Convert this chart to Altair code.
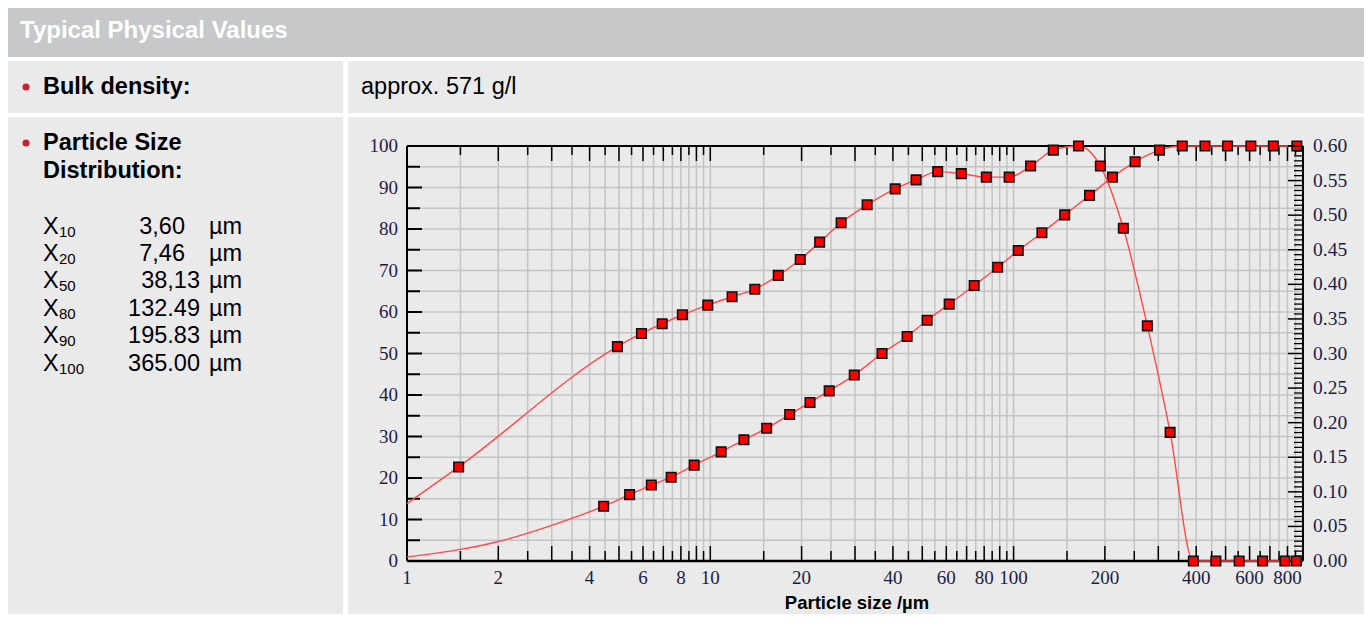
import altair as alt
import pandas as pd

# ---------------- data ----------------
# cumulative distribution Q3 (%), left axis
cum_x = [4.45, 5.42, 6.39, 7.43, 8.85, 10.86, 12.91, 15.34, 18.27, 21.32, 24.66, 29.83,
         36.84, 44.57, 51.87, 61.33, 74.15, 88.6, 103.6, 124, 147.4, 178, 211.8, 251.5,
         302.7, 359.9, 427.6, 507.4, 605.8, 718.5, 859]
cum_y = [13.2, 16.0, 18.3, 20.2, 23.1, 26.3, 29.2, 32.0, 35.3, 38.2, 41.0, 44.8,
         50.0, 54.1, 58.0, 61.9, 66.4, 70.8, 74.8, 79.1, 83.4, 88.1, 92.5, 96.2,
         99.0, 100, 100, 100, 100, 100, 100]
# start of the cumulative curve (line only, no markers)
cum_lead_x = [1, 1.5, 2, 3]
cum_lead_y = [1.0, 2.8, 4.7, 8.6]

# density distribution q3 (right axis)
dens_x = [1.48, 4.94, 5.93, 6.94, 8.09, 9.81, 11.8, 14.02, 16.75, 19.8, 22.94, 27.0,
          32.9, 40.7, 47.7, 56.2, 67.2, 81.3, 96.7, 113.8, 135.2, 163.7, 193.3, 230.1,
          276.1, 328.2, 391.5, 464.4, 554.4, 662.2, 784.2, 855.6]
dens_y = [0.136, 0.310, 0.329, 0.343, 0.356, 0.370, 0.382, 0.393, 0.413, 0.436, 0.461, 0.489,
          0.515, 0.538, 0.551, 0.563, 0.560, 0.555, 0.555, 0.571, 0.594, 0.600, 0.571, 0.481,
          0.340, 0.186, 0.0, 0.0, 0.0, 0.0, 0.0, 0.0]
dens_lead_x = [1]
dens_lead_y = [0.083]

# axes
x_label_values = [1, 2, 4, 6, 8, 10, 20, 40, 60, 80, 100, 200, 400, 600, 800]
x_major_ticks = [2, 3, 4, 5, 6, 7, 8, 9, 10, 20, 30, 40, 50, 60, 70, 80, 90, 100,
                 200, 300, 400, 500, 600, 700, 800]
x_minor_ticks = [1.5, 2.5, 3.5, 4.5, 5.5, 6.5, 7.5, 8.5, 9.5, 15, 25, 35, 45, 55, 65, 75,
                 85, 95, 150, 250, 350, 450, 550, 650, 750, 850]
x_grid = sorted(x_major_ticks + x_minor_ticks)
y_left_labels = [0, 10, 20, 30, 40, 50, 60, 70, 80, 90, 100]
y_left_minor = [5, 15, 25, 35, 45, 55, 65, 75, 85, 95]
y_grid = sorted(y_left_labels + y_left_minor)
y_right_labels = [0, 0.05, 0.10, 0.15, 0.20, 0.25, 0.30, 0.35, 0.40, 0.45, 0.50, 0.55, 0.60]
# the right axis ruler has seven small divisions per labelled step
y_right_minor = [round(i * 0.05 / 7, 5) for i in range(1, 84) if i % 7]

# table texts
header_text = "Typical Physical Values"
row1_label = "Bulk density:"
row1_value = "approx. 571 g/l"
row2_label = ["Particle Size", "Distribution:"]
stat_subs = ["10", "20", "50", "80", "90", "100"]
stat_values = ["3,60", "7,46", "38,13", "132.49", "195.83", "365.00"]
stat_unit = "µm"
x_title = "Particle size /µm"

# ---------------- styling / layout ----------------
W, H = 896, 415
CELL = "#eaeaeb"
HEAD = "#c7c8ca"
GRID = "#c4c4c4"
LINE = "#ff4a4a"
MARK = "#ff0000"
LBL = "#1c1c44"
SANS = "Liberation Sans"
SERIF = "Liberation Serif"

xscale = alt.Scale(type="log", domain=[1, 900], nice=False)
yl = alt.Scale(domain=[0, 100], nice=False, zero=False)
yr = alt.Scale(domain=[0, 0.6], nice=False, zero=False)


def one():
    return pd.DataFrame({"k": [0]})


def rect(x1, x2, y1, y2, color):
    return alt.Chart(one()).mark_rect(color=color).encode(
        x=alt.value(x1), x2=alt.value(x2), y=alt.value(y1), y2=alt.value(y2))


def txt(s, x, y, size, weight="normal", color="black", align="left", font=SANS):
    return alt.Chart(one()).mark_text(
        text=s, align=align, baseline="middle", fontSize=size, fontWeight=weight,
        font=font, color=color).encode(x=alt.value(x), y=alt.value(y))


def hrule(x1, x2, y, color="black", w=2):
    return alt.Chart(one()).mark_rule(color=color, strokeWidth=w).encode(
        x=alt.value(x1), x2=alt.value(x2), y=alt.value(y))


def vrule(x, y1, y2, color="black", w=2):
    return alt.Chart(one()).mark_rule(color=color, strokeWidth=w).encode(
        x=alt.value(x), y=alt.value(y1), y2=alt.value(y2))


def X(field):
    return alt.X(field, type="quantitative", scale=xscale, axis=None)


def YL(field):
    return alt.Y(field, type="quantitative", scale=yl, axis=None)


def YR(field):
    return alt.Y(field, type="quantitative", scale=yr, axis=None)


# background cells (positions relative to the plot origin)
L, R = -399, 957
cells = [
    rect(L, R, -138, -89, HEAD),
    rect(L, -64, -85, -33, CELL),
    rect(-59, R, -85, -33, CELL),
    rect(L, -64, -29, 468, CELL),
    rect(-59, R, -29, 468, CELL),
]

grid_v = alt.Chart(pd.DataFrame({"v": x_grid})).mark_rule(color=GRID, strokeWidth=1.5).encode(
    x=X("v"), y=alt.value(0), y2=alt.value(H))
grid_h = alt.Chart(pd.DataFrame({"v": y_grid})).mark_rule(color=GRID, strokeWidth=1.5).encode(
    y=YL("v"), x=alt.value(0), x2=alt.value(W))

border = [hrule(0, W, 0), hrule(0, W, H, w=2.5), vrule(0, 0, H), vrule(W, 0, H)]

ticks_x = [
    alt.Chart(pd.DataFrame({"v": x_major_ticks})).mark_rule(color="black", strokeWidth=1.5).encode(
        x=X("v"), y=alt.value(H), y2=alt.value(H - 15)),
    alt.Chart(pd.DataFrame({"v": x_minor_ticks})).mark_rule(color="black", strokeWidth=1.5).encode(
        x=X("v"), y=alt.value(H), y2=alt.value(H - 10)),
    alt.Chart(pd.DataFrame({"v": x_major_ticks})).mark_rule(color="black", strokeWidth=1.5).encode(
        x=X("v"), y=alt.value(0), y2=alt.value(15)),
    alt.Chart(pd.DataFrame({"v": x_minor_ticks})).mark_rule(color="black", strokeWidth=1.5).encode(
        x=X("v"), y=alt.value(0), y2=alt.value(9)),
]
ticks_yl = [
    alt.Chart(pd.DataFrame({"v": y_left_labels})).mark_rule(color="black", strokeWidth=2).encode(
        y=YL("v"), x=alt.value(0), x2=alt.value(15)),
    alt.Chart(pd.DataFrame({"v": y_left_minor})).mark_rule(color="black", strokeWidth=2).encode(
        y=YL("v"), x=alt.value(0), x2=alt.value(13)),
]

# axis labels drawn through the scales
xlab_df = pd.DataFrame({"v": x_label_values, "t": [str(v) for v in x_label_values]})
x_labels = alt.Chart(xlab_df).mark_text(font=SERIF, fontSize=19, color=LBL, align="center",
                                        baseline="middle").encode(
    x=X("v"), y=alt.value(H + 17), text="t:N")
ylab_df = pd.DataFrame({"v": y_left_labels, "t": [str(v) for v in y_left_labels]})
yl_labels = alt.Chart(ylab_df).mark_text(font=SERIF, fontSize=19, color=LBL, align="right",
                                         baseline="middle").encode(
    y=YL("v"), x=alt.value(-9), text="t:N")
x_title_mark = txt(x_title, W / 2 + 2, H + 42, 18.5, "bold", align="center")

cum_line_df = pd.DataFrame({"x": cum_lead_x + cum_x, "y": cum_lead_y + cum_y})
cum_pts_df = pd.DataFrame({"x": cum_x, "y": cum_y})
cum_line = alt.Chart(cum_line_df).mark_line(color=LINE, strokeWidth=1.4, interpolate="monotone").encode(
    x=X("x"), y=YL("y"), order="x:Q")
cum_pts = alt.Chart(cum_pts_df).mark_square(fill=MARK, stroke="#111111", strokeWidth=1.6,
                                           size=90, opacity=1).encode(
    x=X("x"), y=YL("y"))

left_group = alt.layer(*cells, grid_v, grid_h, *border, *ticks_x, *ticks_yl,
                       x_labels, yl_labels, x_title_mark, cum_line, cum_pts)

yrlab_df = pd.DataFrame({"v": y_right_labels, "t": [f"{v:.2f}" for v in y_right_labels]})
yr_labels = alt.Chart(yrlab_df).mark_text(font=SERIF, fontSize=19.5, color=LBL, align="left",
                                          baseline="middle").encode(
    y=YR("v"), x=alt.value(W + 10), text="t:N")
dens_line_df = pd.DataFrame({"x": dens_lead_x + dens_x, "y": dens_lead_y + dens_y})
dens_pts_df = pd.DataFrame({"x": dens_x, "y": dens_y})
dens_line = alt.Chart(dens_line_df).mark_line(color=LINE, strokeWidth=1.4, interpolate="monotone").encode(
    x=X("x"), y=YR("y"), order="x:Q")
dens_pts = alt.Chart(dens_pts_df).mark_square(fill=MARK, stroke="#111111", strokeWidth=1.6,
                                             size=90, opacity=1).encode(
    x=X("x"), y=YR("y"))
ticks_yr = [
    alt.Chart(pd.DataFrame({"v": y_right_labels})).mark_rule(color="black", strokeWidth=1.5).encode(
        y=YR("v"), x=alt.value(W), x2=alt.value(W - 15)),
    alt.Chart(pd.DataFrame({"v": y_right_minor})).mark_rule(color="black", strokeWidth=1.3).encode(
        y=YR("v"), x=alt.value(W), x2=alt.value(W - 9)),
]
right_group = alt.layer(*ticks_yr, yr_labels, dens_line, dens_pts)

# texts of the table
texts = [
    txt(header_text, -387, -115, 24, "bold", "white"),
    alt.Chart(one()).mark_circle(color="#c8202f", size=50, opacity=1).encode(
        x=alt.value(-381), y=alt.value(-59)),
    txt(row1_label, -364, -59, 23.5, "bold"),
    txt(row1_value, -46, -59, 23.5),
    alt.Chart(one()).mark_circle(color="#c8202f", size=50, opacity=1).encode(
        x=alt.value(-381), y=alt.value(-3)),
    txt(row2_label[0], -364, -3, 23.5, "bold"),
    txt(row2_label[1], -364, 25, 23.5, "bold"),
]
for i, (sub, val) in enumerate(zip(stat_subs, stat_values)):
    yy = 80.7 + i * 27.36
    vx = -222 if "," in val and len(val) == 4 else -207
    texts += [
        txt("X", -364, yy, 23.5),
        txt(sub, -348, yy + 5, 15),
        txt(val, vx, yy, 23.5, align="right"),
        txt(stat_unit, -198, yy, 23.5),
    ]
text_group = alt.layer(*texts)

chart = alt.layer(left_group, right_group, text_group).resolve_scale(
    y="independent").properties(width=W, height=H, padding=0, background="white"
).configure_view(stroke=None)

chart.save("out.html", embed_options={"renderer": "svg", "actions": False})
